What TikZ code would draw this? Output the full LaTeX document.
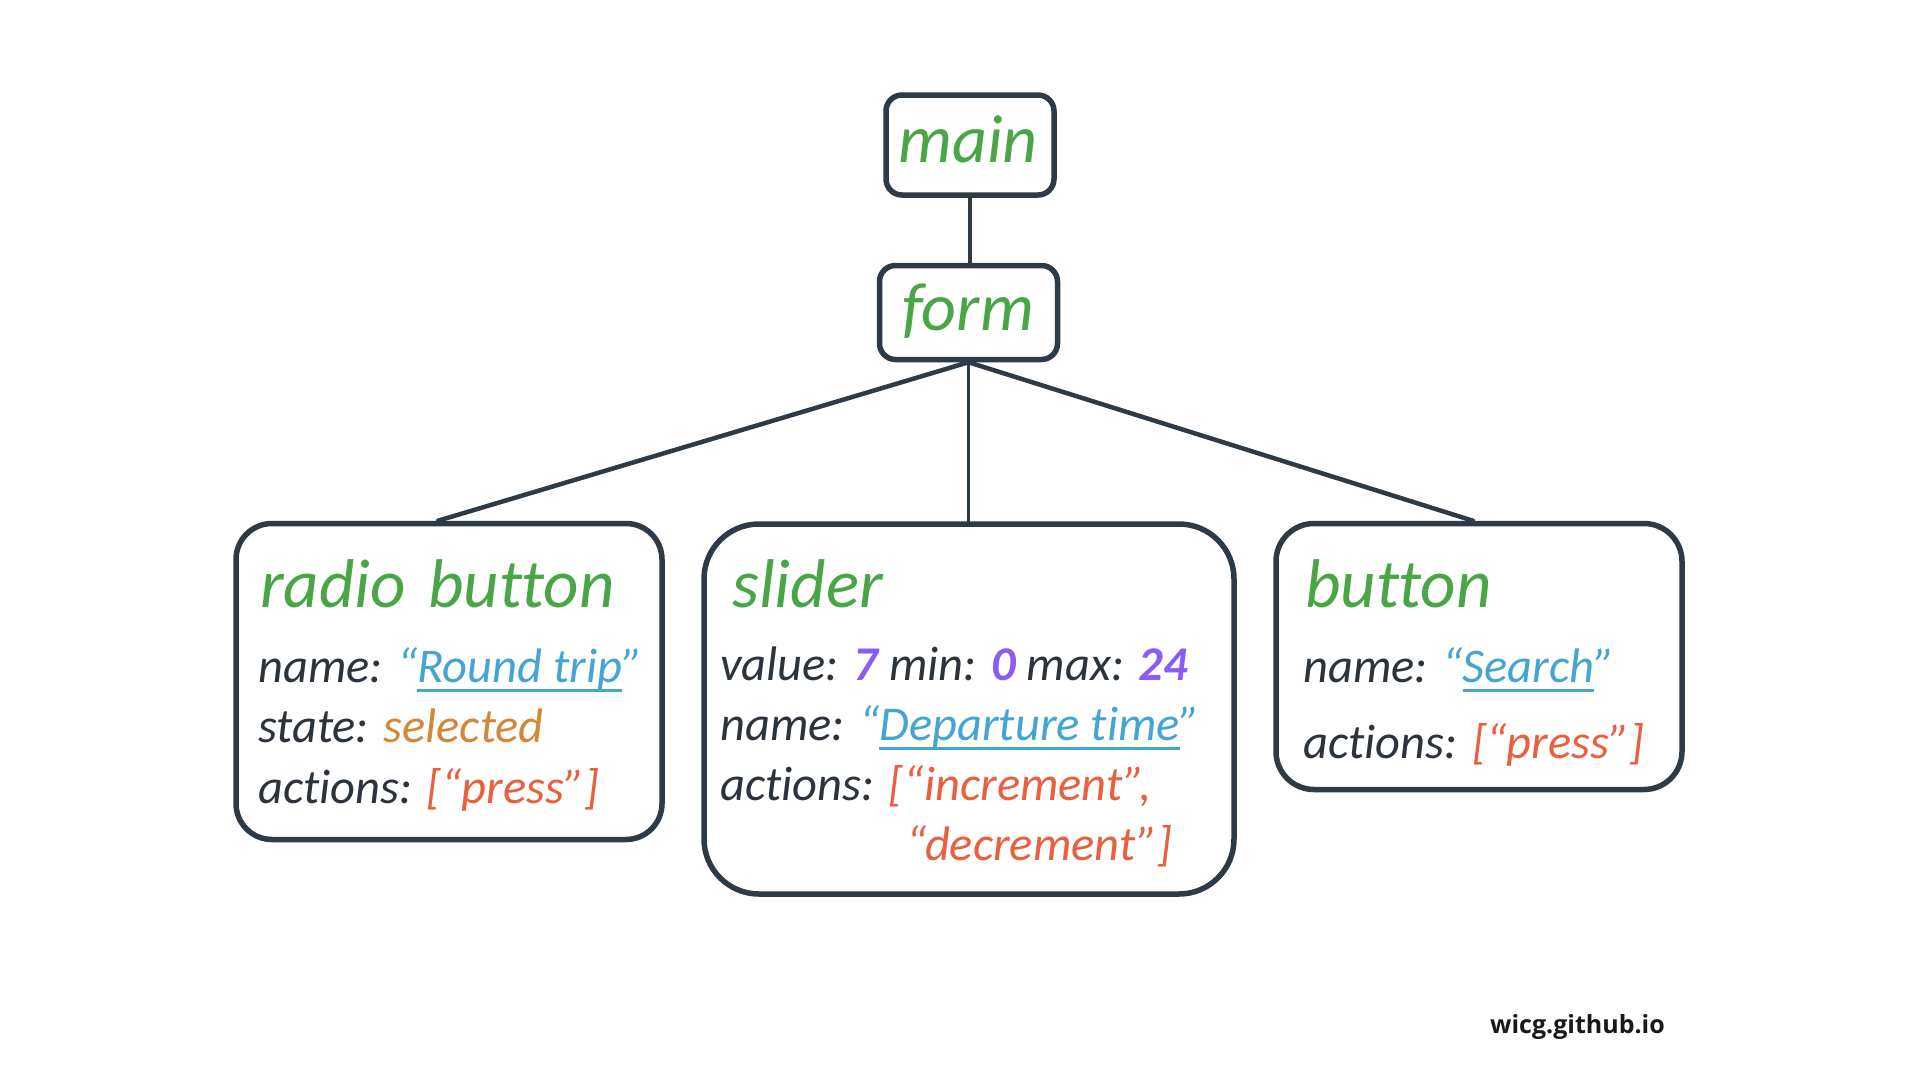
\documentclass[tikz,border=0pt]{standalone}
\usepackage{fontspec}
\setmainfont{Carlito}[Ligatures={NoCommon}]
\newfontfamily\wmfont{Open Sans}
\definecolor{ink}{HTML}{2E3A46}
\definecolor{txt}{HTML}{2B333D}
\definecolor{grn}{HTML}{4AA547}
\definecolor{lblue}{HTML}{45A5D2}
\definecolor{orng}{HTML}{D3873A}
\definecolor{rd}{HTML}{E9603F}
\definecolor{purp}{HTML}{8A5CF5}
\newcommand\ulink[1]{\setbox0\hbox{#1}\rlap{\color{lblue}\rule[-10pt]{\wd0}{3pt}}\box0}
\newcommand\lk[1]{{\color{lblue}“\ulink{#1}”}}
\newcommand\num[1]{{\color{purp}\bfseries #1}}
\tikzset{
  box/.style={draw=ink, line width=5.5pt, fill=white, inner sep=0pt},
  conn/.style={draw=ink, line width=4.5pt, line cap=round},
  ttl/.style={anchor=base west, inner sep=0pt, text=grn, font=\fontsize{69}{72}\selectfont\itshape},
  ctitle/.style={anchor=base, inner sep=0pt, text=grn, font=\fontsize{68}{72}\selectfont\itshape},
  body/.style={anchor=base west, inner sep=0pt, text=txt, font=\fontsize{48.5}{52}\selectfont\itshape},
}
\begin{document}
\begin{tikzpicture}[x=1pt,y=-1pt]
\useasboundingbox[fill=white] (0,0) rectangle (1920,1080);
% boxes
\node[box, rounded corners=16pt, minimum width=168pt, minimum height=100pt] (main) at (970,145) {};
\node[box, rounded corners=16pt, minimum width=178pt, minimum height=94pt] (form) at (968.5,312.5) {};
\node[box, rounded corners=36pt, minimum width=426pt, minimum height=316pt] (radio) at (449,681.5) {};
\node[box, rounded corners=55pt, minimum width=530pt, minimum height=370pt] (slider) at (969,709) {};
\node[box, rounded corners=38pt, minimum width=406pt, minimum height=266pt] (button) at (1479,656.5) {};
% connectors
\draw[conn] (main.south) -- (main.south |- form.north);
\draw[conn] (form.south) -- ([xshift=-11pt]radio.north);
\draw[conn, line width=3.5pt] (form.south) -- (form.south |- slider.north);
\draw[conn] (form.south) -- ([xshift=-6pt]button.north);
% titles
\node[ctitle] (tmain) at (968,162) {main};
\node[ctitle] (tform) at (968,330) {form};
\node[ttl] (tradio) at (260,607) {radio\hspace{0.32em}button};
\node[ttl] (tslider) at (732,607) {slider};
\node[ttl] (tbutton) at (1305,607) {button};
% radio body
\node[body] (r1) at (258,682) {name:\hspace{0.3em}\lk{Round trip}};
\node[body] (r2) at (258,742) {state: {\color{orng}selected}};
\node[body] (r3) at (258,803) {actions: {\color{rd}[“press”]}};
% slider body
\node[body] (s1) at (720,680) {value: \num{7} min: \num{0} max: \num{24}};
\node[body] (s2) at (720,740) {name:\hspace{0.3em}\lk{Departure time}};
\node[body] (s3) at (720,800) {actions: {\color{rd}[“increment”,}};
\node[body, text=rd] (s4) at (906,860) {“decrement”]};
% button body
\node[body] (b1) at (1303,682) {name: \lk{Search}};
\node[body] (b2) at (1303,758) {actions: {\color{rd}[“press”]}};
% watermark
\node[anchor=base west, inner sep=0pt, font=\wmfont\bfseries\fontsize{25}{30}\selectfont, text=black!90] (wm) at (1490,1033) {wicg.github.io};
\end{tikzpicture}
\end{document}
